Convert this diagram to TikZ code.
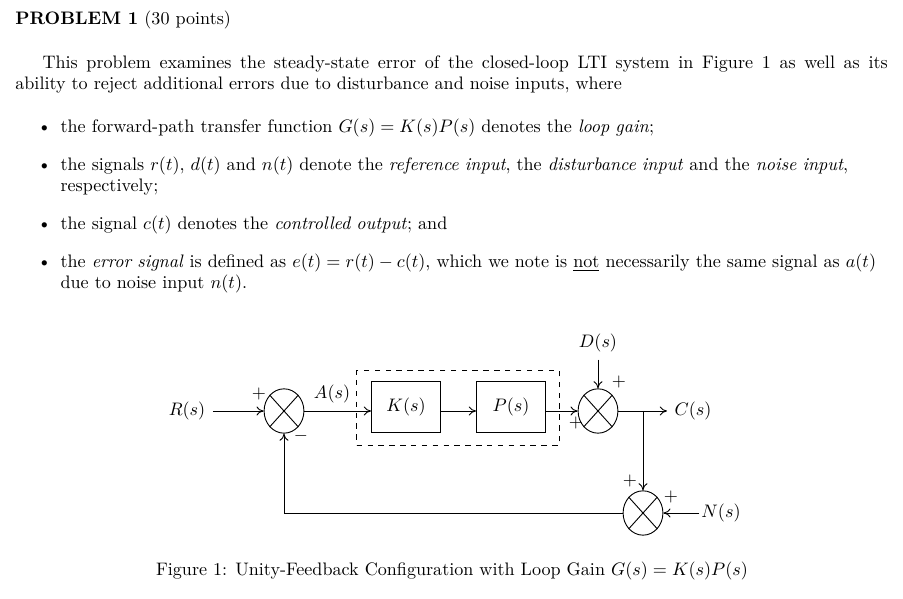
\documentclass[tikz,border=0pt]{standalone}
\usetikzlibrary{shapes.geometric,arrows.meta}
\begin{document}
\begin{tikzpicture}[x=0.5525pt,y=-0.5525pt,
  sum/.style={draw,ellipse,minimum width=22pt,minimum height=24.5pt,inner sep=0pt,line width=0.5pt},
  blk/.style={draw,rectangle,minimum width=38pt,minimum height=28pt,line width=0.6pt},
  sig/.style={line width=0.5pt,-{To[length=4pt,width=5pt]}},
  ln/.style={line width=0.5pt},
  lbl/.style={inner sep=1pt}]
\useasboundingbox (0,0) rectangle (903,599);
\node[anchor=west,inner sep=0pt] (title) at (15,20) {\textbf{PROBLEM 1} (30 points)};
\node[anchor=north west,inner sep=0pt,text width=482pt,align=justify] (intro) at (15,55)
 {\parindent=15pt\indent This problem examines the steady-state error of the closed-loop LTI system in Figure 1 as well as its\linebreak ability to reject additional errors due to disturbance and noise inputs, where};
\node[anchor=north west,inner sep=0pt,text width=485pt] (items) at (15,96)
 {\begin{itemize}\setlength{\itemsep}{4.8pt}
 \item the forward-path transfer function $G(s)=K(s)P(s)$ denotes the \emph{loop gain};
 \item the signals $r(t)$, $d(t)$ and $n(t)$ denote the \emph{reference input}, the \emph{disturbance input} and the \emph{noise input}, respectively;
 \item the signal $c(t)$ denotes the \emph{controlled output}; and
 \item the \emph{error signal} is defined as $e(t)=r(t)-c(t)$, which we note is \underline{not} necessarily the same signal as $a(t)$ due to noise input $n(t)$.
 \end{itemize}};
% diagram
\node[lbl,inner sep=4pt] (R) at (187,411) {$R(s)$};
\node[sum] (s1) at (284,411) {};
\node[blk] (K) at (406,407) {$K(s)$};
\node[blk] (P) at (511,407) {$P(s)$};
\node[draw,dashed,line width=0.6pt,minimum width=112pt,minimum height=41pt] (dash) at (458,408) {};
\node[sum] (s2) at (598,411) {};
\node[lbl,inner sep=4pt] (D) at (598,343) {$D(s)$};
\node[lbl,inner sep=4pt] (C) at (693,411) {$C(s)$};
\node[sum] (s3) at (643,513) {};
\node[lbl] (N) at (721,513) {$N(s)$};
\node[lbl] (A) at (332,394) {$A(s)$};
\foreach \s in {s1,s2,s3}{
 \draw[ln] (\s.north west)--(\s.south east);
 \draw[ln] (\s.north east)--(\s.south west);}
\draw[sig] (R) -- (s1);
\draw[sig] (s1.east) -- (K.west |- s1.east);
\draw[sig] (K.east |- s1.east) -- (P.west |- s1.east);
\draw[sig] (P.east |- s1.east) -- (s2);
\draw[sig] (D) -- (s2);
\coordinate (tap) at (643,411);
\draw[sig] (s2) -- (C);
\draw[sig] (tap) -- (s3);
\draw[sig] (N) -- (s3);
\coordinate (fb) at (284,513);
\draw[sig] (s3) -- (fb) -- (s1);
\node[lbl] (p1) at (259,394) {$+$};
\node[lbl] (m1) at (301,436) {$-$};
\node[lbl] (p2) at (619,382) {$+$};
\node[lbl] (p3) at (576,423) {$+$};
\node[lbl] (p4) at (630,481) {$+$};
\node[lbl] (p5) at (671,497) {$+$};
\node[anchor=center,inner sep=0pt] (cap) at (452,571) {Figure 1: Unity-Feedback Configuration with Loop Gain $G(s)=K(s)P(s)$};
\end{tikzpicture}
\end{document}
